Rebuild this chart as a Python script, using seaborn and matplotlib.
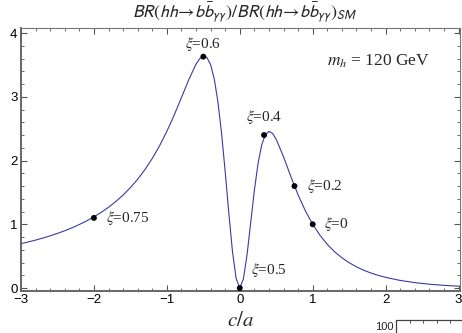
import numpy as np
import pandas as pd
import matplotlib
matplotlib.use("Agg")
import matplotlib.pyplot as plt
from matplotlib.ticker import MultipleLocator, FixedLocator
from matplotlib.lines import Line2D
import seaborn as sns

# ---- data ----
c_over_a = [-3.0, -2.9, -2.8, -2.7, -2.6, -2.5, -2.4, -2.3, -2.2, -2.1,
            -2.0, -1.9, -1.8, -1.7, -1.6, -1.5, -1.4, -1.3, -1.2, -1.1,
            -1.0, -0.9, -0.8, -0.7, -0.6, -0.55, -0.5, -0.45, -0.4, -0.35,
            -0.3, -0.25, -0.2, -0.15, -0.1, -0.05, 0.0, 0.05, 0.1, 0.15,
            0.2, 0.25, 0.3, 0.35, 0.4, 0.45, 0.5, 0.6, 0.7, 0.8,
            0.9, 1.0, 1.1, 1.2, 1.3, 1.4, 1.5, 1.6, 1.7, 1.8,
            1.9, 2.0, 2.2, 2.4, 2.6, 2.8, 3.0]
br_ratio = [0.696, 0.723, 0.752, 0.784, 0.819, 0.857, 0.899, 0.945, 0.997, 1.053,
            1.117, 1.187, 1.267, 1.357, 1.459, 1.575, 1.707, 1.859, 2.033, 2.232,
            2.458, 2.712, 2.988, 3.267, 3.512, 3.598, 3.639, 3.616, 3.505, 3.281,
            2.925, 2.432, 1.827, 1.172, 0.573, 0.151, 0.0, 0.144, 0.525, 1.026,
            1.530, 1.949, 2.243, 2.406, 2.458, 2.425, 2.334, 2.059, 1.750, 1.461,
            1.210, 1.000, 0.827, 0.685, 0.569, 0.475, 0.397, 0.332, 0.279, 0.235,
            0.198, 0.167, 0.119, 0.085, 0.060, 0.042, 0.029]

xi_labels = ["0.75", "0.6", "0.5", "0.4", "0.2", "0"]
xi_x = [-2.0, -0.5, 0.0, 0.333, 0.75, 1.0]
xi_y = [1.10, 3.63, 0.0, 2.40, 1.60, 1.00]

x_ticks = [-3, -2, -1, 0, 1, 2, 3]
y_ticks = [0, 1, 2, 3, 4]

# ---- style ----
sns.set_theme(style="ticks")
plt.rcParams["font.family"] = ["Liberation Sans", "DejaVu Sans"]
plt.rcParams["axes.unicode_minus"] = True

fig = plt.figure(figsize=(4.62, 3.33), dpi=100)
ax = fig.add_axes([21/462, 1 - 290.7/333, (460 - 21)/462, (290.7 - 28)/333])

curve = pd.DataFrame({"c/a": c_over_a, "ratio": br_ratio})
pts = pd.DataFrame({"x": xi_x, "y": xi_y})

sns.lineplot(data=curve, x="c/a", y="ratio", ax=ax, color="#3b3ba3",
             linewidth=0.8, sort=False, estimator=None)
sns.scatterplot(data=pts, x="x", y="y", ax=ax, color="black", s=18,
                edgecolor="none", zorder=5, clip_on=False)

ax.set_xlim(-3, 3.02)
ax.set_ylim(-0.042, 4.08)
ax.xaxis.set_major_locator(FixedLocator(x_ticks))
ax.yaxis.set_major_locator(FixedLocator(y_ticks))
ax.xaxis.set_minor_locator(MultipleLocator(0.2))
ax.yaxis.set_minor_locator(MultipleLocator(0.2))
ax.tick_params(which="both", direction="in", top=True, right=True,
               labeltop=False, labelright=False, color="#555555")
ax.tick_params(which="major", length=4.0, width=0.8, labelsize=9.5, pad=2.5,
               labelcolor="black")
ax.tick_params(which="minor", length=2.2, width=0.6)
ax.set_xlabel("")
ax.set_ylabel("")

for side in ["top", "right"]:
    ax.spines[side].set_color("#777777")
    ax.spines[side].set_linewidth(0.8)
for side in ["bottom", "left"]:
    ax.spines[side].set_color("#666666")
    ax.spines[side].set_linewidth(1.4)

# point labels
serif = ["Liberation Serif", "DejaVu Serif"]
lab_pos = {
    "0.75": (-1.83, 1.10, "left"),
    "0.6": (-0.51, 3.83, "center"),
    "0.5": (0.154, 0.28, "left"),
    "0.4": (0.336, 2.69, "center"),
    "0.2": (0.926, 1.605, "left"),
    "0": (1.159, 1.00, "left"),
}
for lab in xi_labels:
    lx, ly, ha = lab_pos[lab]
    ax.text(lx, ly, r"$\xi$=" + lab, ha=ha, va="center", fontsize=11,
            family=serif, math_fontfamily="stix")

ax.text(1.196, 3.55, r"$m_h$ = 120 GeV", ha="left", va="center",
        fontsize=12.5, family=serif, math_fontfamily="stix")

# title and x label
fig.text(245/462, 1 - 13/333,
         r"$BR(hh\!\rightarrow\! b\bar{b}_{\gamma\gamma})/BR(hh\!\rightarrow\! b\bar{b}_{\gamma\gamma})_{SM}$",
         ha="center", va="center", fontsize=13, math_fontfamily="stixsans")
fig.text(241/462, 1 - 320/333, r"$c/a$", ha="center", va="center",
         fontsize=15, math_fontfamily="stix")

# fragment of the neighbouring panel visible at the bottom-right corner
fx0, fy0 = 395.7/462, 1 - 320/333
fig.add_artist(Line2D([fx0, 1.0], [fy0, fy0], transform=fig.transFigure,
                      color="#444444", linewidth=0.9))
fig.add_artist(Line2D([fx0, fx0], [fy0, 0.0], transform=fig.transFigure,
                      color="#444444", linewidth=0.9))
for tx in [410, 423, 437, 450]:
    fig.add_artist(Line2D([tx/462, tx/462], [fy0, fy0 - 3/333],
                          transform=fig.transFigure, color="#444444",
                          linewidth=0.6))
fig.text(394/462, 1 - 322/333, "100", ha="right", va="top", fontsize=8)

fig.savefig("out.png", dpi=100)
